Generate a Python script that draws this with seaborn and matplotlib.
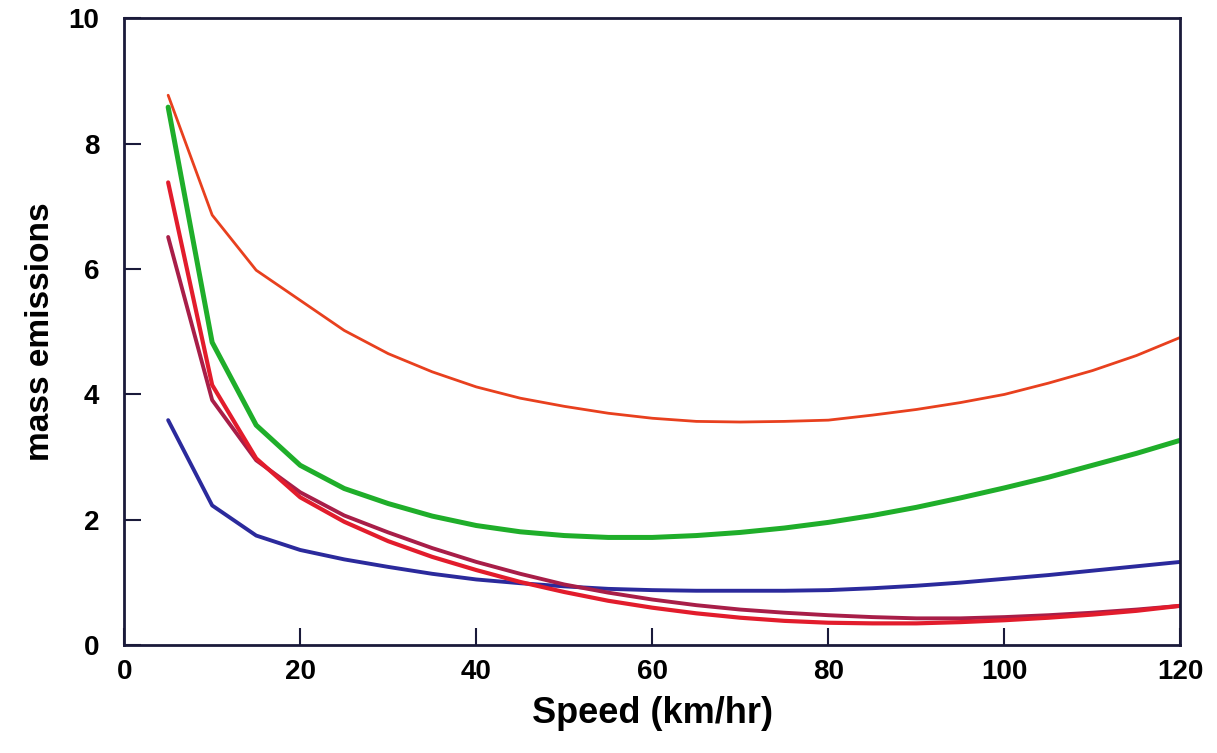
import matplotlib

matplotlib.use("Agg")

import matplotlib.pyplot as plt
import pandas as pd
import seaborn as sns

# Speed steps (km/hr)
speed = [5, 10, 15, 20, 25, 30, 35, 40, 45, 50, 55, 60, 65, 70,
         75, 80, 85, 90, 95, 100, 105, 110, 115, 120]

# Mass emissions, one list per curve
orange_curve = [8.77, 6.86, 5.98, 5.50, 5.02, 4.65, 4.36, 4.12, 3.94, 3.81, 3.70, 3.62,
                3.57, 3.56, 3.57, 3.59, 3.67, 3.76, 3.87, 4.00, 4.18, 4.38, 4.62, 4.91]
green_curve = [8.58, 4.83, 3.51, 2.87, 2.50, 2.26, 2.06, 1.91, 1.81, 1.75, 1.72, 1.72,
               1.75, 1.80, 1.87, 1.96, 2.07, 2.20, 2.35, 2.51, 2.68, 2.87, 3.06, 3.27]
blue_curve = [3.59, 2.23, 1.75, 1.52, 1.37, 1.25, 1.14, 1.05, 0.99, 0.94, 0.90, 0.88,
              0.87, 0.87, 0.87, 0.88, 0.91, 0.95, 1.00, 1.06, 1.12, 1.19, 1.26, 1.33]
red_curve = [7.38, 4.15, 2.98, 2.36, 1.97, 1.66, 1.41, 1.20, 1.01, 0.85, 0.71, 0.60,
             0.51, 0.44, 0.39, 0.36, 0.35, 0.35, 0.37, 0.40, 0.44, 0.49, 0.55, 0.63]
maroon_curve = [6.51, 3.91, 2.95, 2.44, 2.07, 1.80, 1.55, 1.33, 1.14, 0.97, 0.84, 0.73,
                0.64, 0.57, 0.52, 0.48, 0.45, 0.43, 0.43, 0.45, 0.48, 0.52, 0.57, 0.63]

curves = {
    "orange": orange_curve,
    "green": green_curve,
    "blue": blue_curve,
    "red": red_curve,
    "maroon": maroon_curve,
}
colors = {
    "orange": "#e8401e",
    "green": "#1fae2a",
    "blue": "#2b2a9c",
    "red": "#e21c2c",
    "maroon": "#a81e48",
}
widths = {"orange": 2.0, "green": 3.6, "blue": 2.8, "red": 3.0, "maroon": 2.8}

df = pd.DataFrame(
    [(s, v, name) for name, vals in curves.items() for s, v in zip(speed, vals)],
    columns=["speed", "emissions", "curve"],
)

sns.set_style("white")
plt.rcParams["font.family"] = ["Liberation Sans", "DejaVu Sans"]
plt.rcParams["text.color"] = "black"
plt.rcParams["axes.labelcolor"] = "black"
plt.rcParams["xtick.color"] = "black"
plt.rcParams["ytick.color"] = "black"

fig = plt.figure(figsize=(12.17, 7.53), dpi=100)
ax = fig.add_axes([0.102, 0.143, 0.868, 0.833])

for name in ["orange", "green", "blue", "maroon", "red"]:
    sns.lineplot(
        data=df[df["curve"] == name],
        x="speed",
        y="emissions",
        color=colors[name],
        linewidth=widths[name],
        ax=ax,
    )

ax.set_xlim(0, 120)
ax.set_ylim(0, 10)
ax.set_xticks(range(0, 121, 20))
ax.set_yticks(range(0, 11, 2))
ax.tick_params(
    bottom=True, left=True, direction="in", length=12, width=1.5,
    color="#1a1a3a", labelsize=20, labelcolor="black",
)
ax.tick_params(axis="y", pad=18)
ax.tick_params(axis="x", pad=10)
for lbl in ax.get_xticklabels() + ax.get_yticklabels():
    lbl.set_fontweight("bold")
for sp in ax.spines.values():
    sp.set_visible(True)
    sp.set_color("#1a1a3a")
    sp.set_linewidth(2)

ax.set_xlabel("Speed (km/hr)", fontsize=26, fontweight="bold", labelpad=8)
ax.set_ylabel("mass emissions", fontsize=24, fontweight="bold", labelpad=9)

fig.savefig("out.png", dpi=100, facecolor="white")
